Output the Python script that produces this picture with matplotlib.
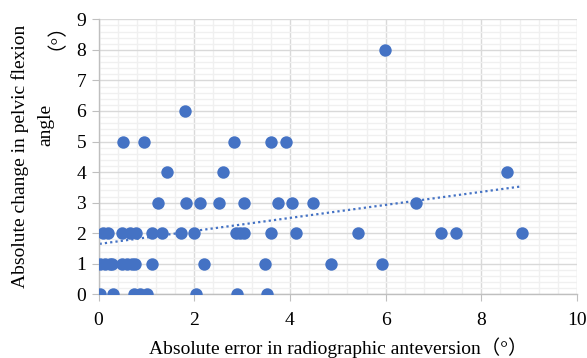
import numpy as np
import matplotlib
matplotlib.use("Agg")
import matplotlib.pyplot as plt
from matplotlib.ticker import MultipleLocator

plt.rcParams['font.family'] = ['Liberation Serif', 'Noto Sans CJK SC', 'DejaVu Sans']

# Data (x = absolute error in anteversion, y = change in pelvic flexion)
x_y0 = [0.02, 0.30, 0.73, 0.86, 1.02, 2.03, 2.90, 3.53]
x_y1 = [0.03, 0.14, 0.24, 0.29, 0.48, 0.59, 0.69, 0.76, 1.11, 2.20, 3.47, 4.86, 5.93]
x_y2 = [0.10, 0.19, 0.48, 0.66, 0.78, 1.12, 1.32, 1.72, 2.00, 2.88, 2.95, 3.04,
        3.60, 4.13, 5.43, 7.15, 7.46, 8.84]
x_y3 = [1.25, 1.82, 2.12, 2.52, 3.04, 3.76, 4.05, 4.48, 6.63]
x_y4 = [1.43, 2.60, 8.53]
x_y5 = [0.51, 0.94, 2.82, 3.60, 3.91]
x_y6 = [1.80]
x_y8 = [5.98]

groups = {0: x_y0, 1: x_y1, 2: x_y2, 3: x_y3, 4: x_y4, 5: x_y5, 6: x_y6, 8: x_y8}
xs = np.array([v for k, vals in groups.items() for v in vals])
ys = np.array([k for k, vals in groups.items() for v in vals], dtype=float)

x_ticks = [0, 2, 4, 6, 8, 10]
y_ticks = list(range(0, 10))

blue = '#4472C4'

fig = plt.figure(figsize=(5.87, 3.58), dpi=100)
ax = fig.add_axes([0.168, 0.178, 0.815, 0.768])

ax.scatter(xs, ys, s=80, color=blue, zorder=3, linewidths=0)

# linear trendline
m, b = np.polyfit(xs, ys, 1)
tx = np.array([xs.min(), xs.max()])
ax.plot(tx, m * tx + b, color=blue, lw=1.6, linestyle=(0, (1, 1.4)), zorder=2)

ax.set_xlim(0, 10)
ax.set_ylim(0, 9)
ax.set_xticks(x_ticks)
ax.set_yticks(y_ticks)
ax.xaxis.set_minor_locator(MultipleLocator(0.4))
ax.yaxis.set_minor_locator(MultipleLocator(0.2))
ax.grid(which='major', color='#D9D9D9', lw=1.0, zorder=0)
ax.grid(which='minor', color='#F0F0F0', lw=1.0, zorder=0)
ax.set_axisbelow(True)

for s in ['top', 'right']:
    ax.spines[s].set_visible(False)
for s in ['left', 'bottom']:
    ax.spines[s].set_color('#BFBFBF')
    ax.spines[s].set_linewidth(1.0)

ax.tick_params(which='major', length=5, color='#BFBFBF', labelsize=14, pad=4)
ax.tick_params(which='minor', length=0)
ax.tick_params(axis='x', pad=8)

ax.set_xlabel('Absolute error in radiographic anteversion（°）', fontsize=14, labelpad=6)

fig.text(20 / 587, 1 - 156 / 358, 'Absolute change in pelvic flexion', rotation=90,
         fontsize=14, ha='center', va='center')
fig.text(46 / 587, 1 - 125 / 358, 'angle', rotation=90,
         fontsize=14, ha='center', va='center')
fig.text(46 / 587, 1 - 27 / 358, '（°）', rotation=90,
         fontsize=14, ha='center', va='center')

fig.savefig('out.png', dpi=100)
